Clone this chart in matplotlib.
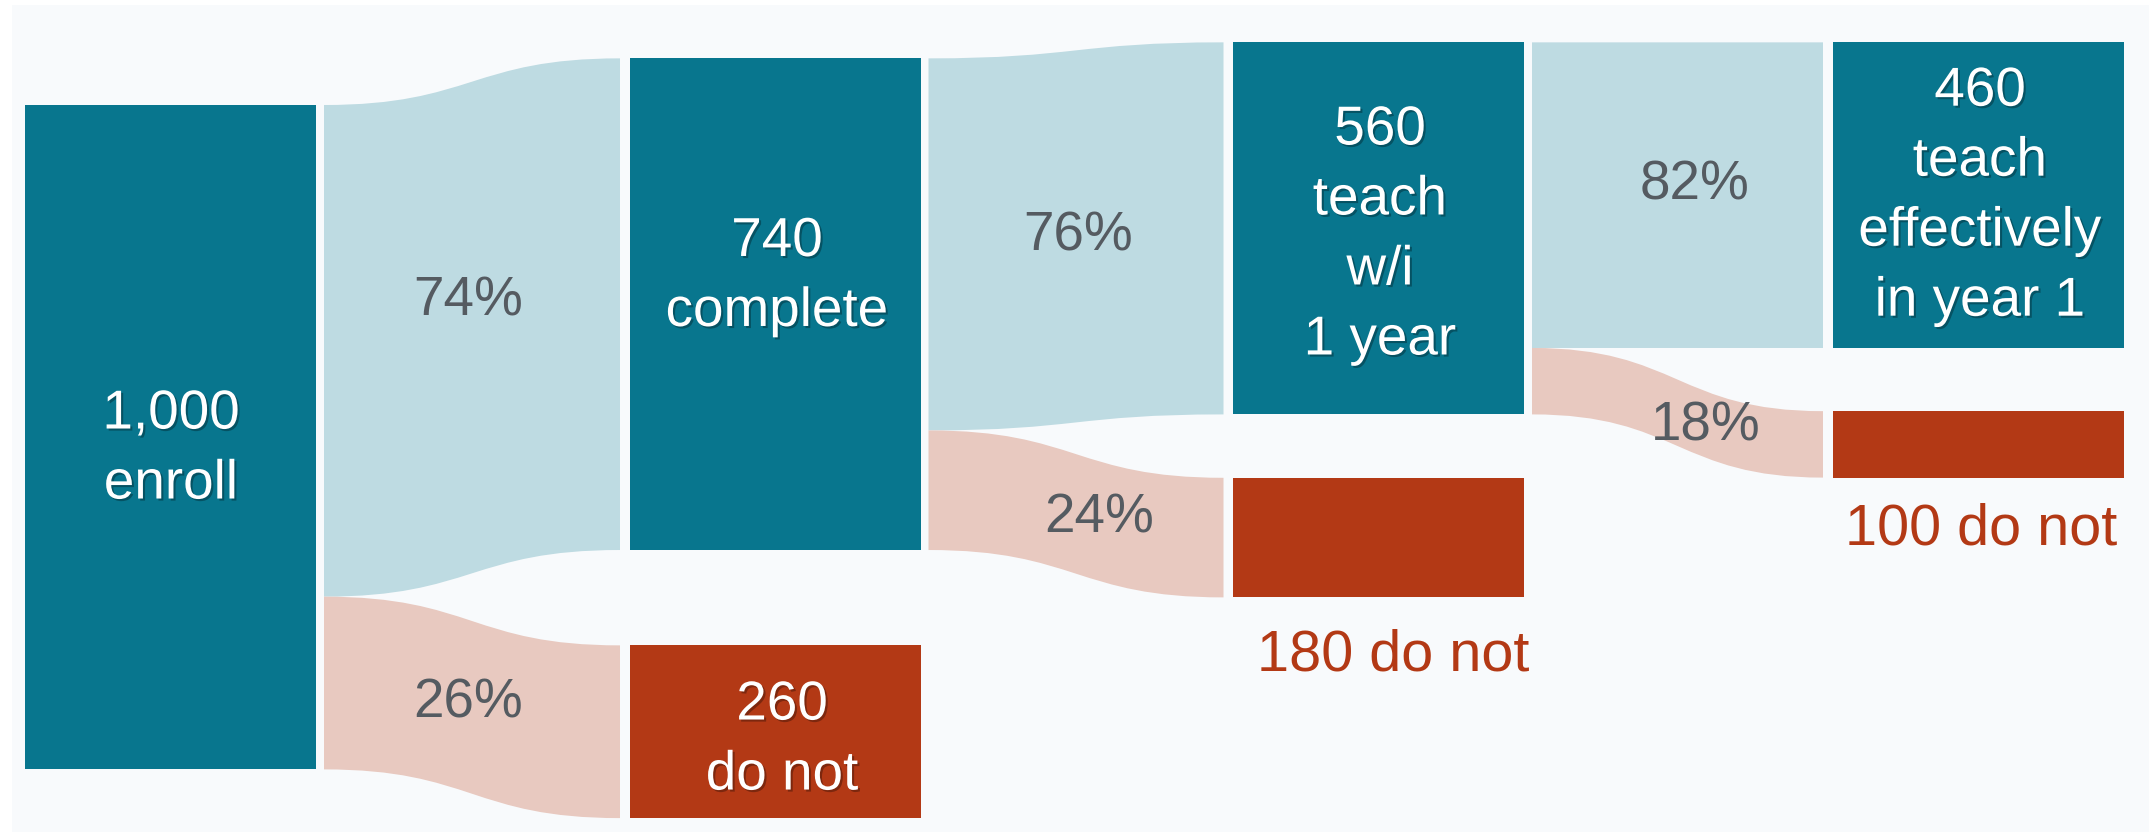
import matplotlib
matplotlib.use("Agg")
import matplotlib.pyplot as plt
import matplotlib.patheffects as pe
from matplotlib.patches import Rectangle, PathPatch
from matplotlib.path import Path

# ── Data ───────────────────────────────────────────────────────────────────────
STAGES     = ["enroll", "complete", "teach w/i 1 year", "teach effectively in year 1"]
KEPT       = [1000, 740, 560, 460]          # people who continue at each stage
LOST       = [260, 180, 100]                # people who drop out after each stage
KEPT_TEXT  = ["1,000\nenroll", "740\ncomplete", "560\nteach\nw/i\n1 year",
              "460\nteach\neffectively\nin year 1"]
LOST_TEXT  = ["260\ndo not", "180 do not", "100 do not"]

# ── Layout ─────────────────────────────────────────────────────────────────────
W, H       = 2149, 832
PX_PER     = 0.6644          # vertical pixels per person
TOP_PX     = 105             # pixel row of the first node's top edge
COL_LEFT   = [25, 629.5, 1233, 1832.5]
COL_W      = 291
GAP_L, GAP_R = 8, 9.5

KEPT_TOP   = [0, -70.2, -94.3, -94.3]       # node tops, in people units
LOST_TOP   = [813.3, 561.1, 460.8]

TEAL   = "#08768E"
LIGHT  = "#BEDBE2"
PINK   = "#E8C9C0"
RED    = "#B33915"
GREY   = "#555B61"
BG     = "#F8FAFC"
FONT   = ["Liberation Sans", "DejaVu Sans"]
FS     = 39.5
FS_RED = 41.5
LSP    = 1.45

# label anchors: (x px, last-line baseline in people units)
KEPT_POS = [(171, 592.3), (777, 332.6), (1380, 375.5), (1980, 317.1)]
LOST_POS = [(782, 1030.3), (1393, 850.9), (1981.6, 661.1)]
PCT_POS  = [((468, 316.3), (468, 921.7)),
            ((1078, 219.1), (1099, 643.1)),
            ((1695, 141.6), (1706, 505.1))]


def band(ax, x0, x1, s_top, s_bot, t_top, t_bot, color):
    xm = (x0 + x1) / 2
    verts = [(x0, s_top), (xm, s_top), (xm, t_top), (x1, t_top),
             (x1, t_bot), (xm, t_bot), (xm, s_bot), (x0, s_bot), (x0, s_top)]
    codes = [Path.MOVETO, Path.CURVE4, Path.CURVE4, Path.CURVE4,
             Path.LINETO, Path.CURVE4, Path.CURVE4, Path.CURVE4, Path.CLOSEPOLY]
    ax.add_patch(PathPatch(Path(verts, codes), facecolor=color, edgecolor="none"))


def main():
    fig = plt.figure(figsize=(W / 100, H / 100), dpi=100, facecolor="white")
    fig.patches.append(Rectangle((12 / W, 0), 1, (H - 5) / H, transform=fig.transFigure,
                                 facecolor=BG, edgecolor="none", zorder=-10))
    ax = fig.add_axes([0, 0, 1, 1])
    ax.set_xlim(0, W)
    ax.set_ylim((H - TOP_PX) / PX_PER, -TOP_PX / PX_PER)
    ax.axis("off")

    shadow = [pe.withSimplePatchShadow(offset=(1.5, -1.5), shadow_rgbFace="black", alpha=0.3)]

    # nodes
    for i, v in enumerate(KEPT):
        ax.add_patch(Rectangle((COL_LEFT[i], KEPT_TOP[i]), COL_W, v, facecolor=TEAL, edgecolor="none"))
        x, y = KEPT_POS[i]
        ax.text(x, y, KEPT_TEXT[i], color="white", fontsize=FS, family=FONT, ha="center",
                va="baseline", linespacing=LSP, path_effects=shadow)
    for i, v in enumerate(LOST):
        ax.add_patch(Rectangle((COL_LEFT[i + 1], LOST_TOP[i]), COL_W, v, facecolor=RED, edgecolor="none"))
        x, y = LOST_POS[i]
        if i == 0:
            ax.text(x, y, LOST_TEXT[i], color="white", fontsize=FS, family=FONT, ha="center",
                    va="baseline", linespacing=LSP, path_effects=shadow)
        else:
            ax.text(x, y, LOST_TEXT[i], color=RED, fontsize=FS_RED, family=FONT, ha="center", va="baseline")

    # flows
    for i in range(3):
        x0 = COL_LEFT[i] + COL_W + GAP_L
        x1 = COL_LEFT[i + 1] - GAP_R
        src = KEPT_TOP[i]
        kept, lost = KEPT[i + 1], LOST[i]
        band(ax, x0, x1, src, src + kept, KEPT_TOP[i + 1], KEPT_TOP[i + 1] + kept, LIGHT)
        band(ax, x0, x1, src + kept, src + kept + lost, LOST_TOP[i], LOST_TOP[i] + lost, PINK)
        for val, (x, y) in zip((kept, lost), PCT_POS[i]):
            ax.text(x, y, f"{round(100 * val / KEPT[i])}%", color=GREY, fontsize=FS,
                    family=FONT, ha="center", va="baseline")

    fig.savefig("out.png", dpi=100, facecolor=fig.get_facecolor())
    plt.close(fig)


if __name__ == "__main__":
    main()
